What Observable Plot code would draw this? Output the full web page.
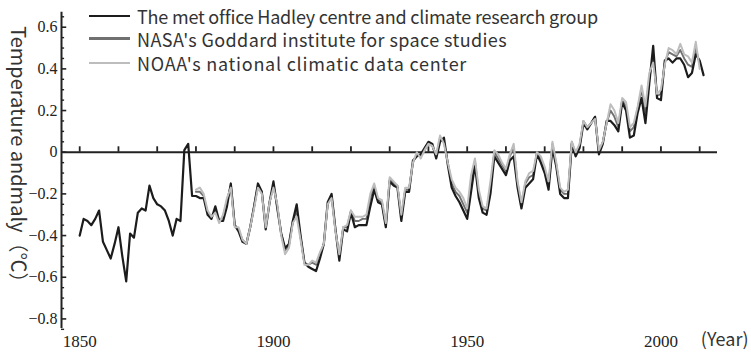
<!DOCTYPE html>
<html>
<head>
<meta charset="utf-8">
<script src="https://cdn.jsdelivr.net/npm/d3@7"></script>
<script src="https://cdn.jsdelivr.net/npm/@observablehq/plot@0.6"></script>
<style>
  html, body { margin: 0; padding: 0; background: #fff; }
  #wrap { position: relative; width: 751px; height: 355px; }
  #legend { position: absolute; left: 89px; top: 4px; font-family: "Noto Sans CJK SC", "Noto Sans", sans-serif; font-size: 18px; color: #333; }
  .row { position: absolute; left: 0; white-space: nowrap; display: flex; align-items: center; height: 20px; line-height: 20px; }
  .sw { display: inline-block; width: 41px; margin-right: 7px; }
</style>
</head>
<body>
<div id="wrap"><div id="legend"></div></div>
<script>
const seriesNames = [
  "The met office Hadley centre and climate research group",
  "NASA's Goddard institute for space studies",
  "NOAA's national climatic data center"
];
const seriesColors = ["#1c1c1c", "#707070", "#bdbdbd"];

const hadleyStart = 1850;
const hadley = [
  -0.40,-0.32,-0.33,-0.35,-0.32,-0.28,-0.43,-0.47,-0.51,-0.44,
  -0.36,-0.50,-0.62,-0.39,-0.41,-0.29,-0.27,-0.28,-0.16,-0.22,
  -0.25,-0.26,-0.28,-0.33,-0.40,-0.32,-0.33,0.01,0.04,-0.21,
  -0.21,-0.22,-0.22,-0.30,-0.32,-0.26,-0.33,-0.33,-0.26,-0.15,
  -0.35,-0.38,-0.43,-0.44,-0.36,-0.26,-0.15,-0.19,-0.37,-0.24,
  -0.14,-0.27,-0.39,-0.46,-0.44,-0.33,-0.25,-0.40,-0.53,-0.55,
  -0.56,-0.57,-0.51,-0.44,-0.24,-0.20,-0.37,-0.52,-0.37,-0.38,
  -0.29,-0.36,-0.35,-0.35,-0.35,-0.26,-0.18,-0.24,-0.25,-0.36,
  -0.14,-0.16,-0.17,-0.33,-0.19,-0.19,-0.04,-0.02,-0.01,0.02,
  0.05,0.04,-0.03,0.05,0.07,-0.06,-0.17,-0.21,-0.24,-0.28,
  -0.32,-0.19,-0.06,-0.22,-0.29,-0.30,-0.20,-0.02,-0.05,-0.08,
  -0.11,-0.04,-0.02,-0.17,-0.27,-0.17,-0.15,-0.13,-0.01,-0.05,
  -0.10,-0.18,0.02,-0.07,-0.20,-0.22,-0.22,0.04,-0.02,0.02,
  0.14,0.11,0.14,0.17,-0.01,0.04,0.15,0.15,0.13,0.10,
  0.24,0.20,0.07,0.08,0.19,0.26,0.14,0.33,0.51,0.26,
  0.25,0.44,0.45,0.43,0.45,0.45,0.42,0.36,0.38,0.47,
  0.44,0.37
];

const nasaStart = 1880;
const nasa = [
  -0.19,-0.19,-0.21,-0.29,-0.31,-0.28,-0.33,-0.31,-0.23,-0.16,
  -0.35,-0.37,-0.42,-0.44,-0.36,-0.26,-0.16,-0.19,-0.36,-0.24,
  -0.16,-0.26,-0.39,-0.47,-0.45,-0.33,-0.28,-0.41,-0.53,-0.54,
  -0.53,-0.54,-0.49,-0.44,-0.25,-0.21,-0.37,-0.50,-0.36,-0.36,
  -0.28,-0.33,-0.33,-0.32,-0.32,-0.22,-0.16,-0.23,-0.24,-0.35,
  -0.13,-0.15,-0.16,-0.31,-0.18,-0.18,-0.05,-0.01,-0.02,0.01,
  0.04,0.03,-0.02,0.07,0.05,-0.05,-0.15,-0.19,-0.21,-0.25,
  -0.29,-0.15,-0.04,-0.20,-0.27,-0.28,-0.17,0.00,-0.03,-0.06,
  -0.09,-0.02,0.02,-0.15,-0.25,-0.15,-0.12,-0.11,0.00,-0.03,
  -0.08,-0.16,0.04,-0.06,-0.18,-0.20,-0.20,0.05,-0.01,0.03,
  0.15,0.12,0.14,0.17,0.00,0.05,0.14,0.20,0.17,0.12,
  0.25,0.22,0.10,0.12,0.21,0.30,0.19,0.36,0.46,0.27,
  0.28,0.43,0.48,0.47,0.46,0.49,0.45,0.42,0.41,0.50,
  0.42
];

const noaaStart = 1880;
const noaa = [
  -0.18,-0.17,-0.20,-0.28,-0.31,-0.29,-0.34,-0.30,-0.22,-0.17,
  -0.36,-0.36,-0.42,-0.44,-0.36,-0.27,-0.17,-0.20,-0.36,-0.24,
  -0.17,-0.25,-0.40,-0.49,-0.46,-0.34,-0.31,-0.42,-0.54,-0.54,
  -0.52,-0.53,-0.48,-0.44,-0.25,-0.22,-0.38,-0.49,-0.36,-0.35,
  -0.28,-0.31,-0.31,-0.31,-0.30,-0.20,-0.15,-0.22,-0.23,-0.34,
  -0.12,-0.14,-0.16,-0.30,-0.17,-0.17,-0.05,0.00,-0.03,0.01,
  0.04,0.03,-0.01,0.08,0.04,-0.05,-0.13,-0.17,-0.19,-0.22,
  -0.27,-0.11,-0.03,-0.18,-0.26,-0.27,-0.14,0.01,-0.01,-0.05,
  -0.08,-0.01,0.04,-0.14,-0.24,-0.14,-0.10,-0.09,0.00,-0.02,
  -0.07,-0.14,0.05,-0.05,-0.17,-0.19,-0.18,0.05,0.00,0.04,
  0.15,0.12,0.14,0.16,0.01,0.05,0.14,0.23,0.20,0.14,
  0.26,0.24,0.12,0.14,0.22,0.32,0.22,0.38,0.43,0.28,
  0.30,0.42,0.50,0.49,0.47,0.52,0.47,0.46,0.43,0.53,
  0.40
];

const xTickYears = [1850,1860,1870,1880,1890,1900,1910,1920,1930,1940,1950,1960,1970,1980,1990,2000,2010];
const xLabelYears = [1850, 1900, 1950, 2000];
const yMajor = [-0.8,-0.6,-0.4,-0.2,0,0.2,0.4,0.6];
const yMinor = [-0.85,-0.75,-0.7,-0.65,-0.55,-0.5,-0.45,-0.35,-0.3,-0.25,-0.15,-0.1,-0.05,0.05,0.1,0.15,0.25,0.3,0.35,0.45,0.5,0.55,0.65];
const xDomain = [1845.3, 2014.6];
const yDomain = [-0.846, 0.672];

const toRows = (start, vals, name) => vals.map((v, i) => ({year: start + i, value: v, name}));
const rows = [
  toRows(hadleyStart, hadley, seriesNames[0]),
  toRows(nasaStart, nasa, seriesNames[1]),
  toRows(noaaStart, noaa, seriesNames[2])
];

const fmt = d => d === 0 ? "0" : d3.format(".1f")(d).replace("-", "\u2212");

const chart = Plot.plot({
  width: 751,
  height: 355,
  marginLeft: 61,
  marginRight: 34,
  marginTop: 11.7,
  marginBottom: 27,
  x: {domain: xDomain, label: null},
  y: {domain: yDomain, label: null},
  style: {background: "transparent"},
  marks: [
    Plot.ruleY([0], {x1: xDomain[0], x2: xDomain[1], stroke: "#222", strokeWidth: 2}),
    Plot.ruleX(xTickYears, {y1: 0, y2: 0.026, stroke: "#222", strokeWidth: 1.8}),
    Plot.ruleX([xDomain[0]], {y1: yDomain[0], y2: yDomain[1], stroke: "#222", strokeWidth: 2}),
    Plot.ruleY(yMajor, {x1: xDomain[0], x2: xDomain[0] + 1.35, stroke: "#222", strokeWidth: 1.6}),
    Plot.ruleY(yMinor, {x1: xDomain[0], x2: xDomain[0] + 0.8, stroke: "#222", strokeWidth: 1.4}),
    Plot.axisY(yMajor, {tickSize: 0, tickPadding: 4, tickFormat: fmt, fontSize: 16, fontFamily: "Liberation Serif, serif", fill: "#222", label: null}),
    Plot.axisX(xLabelYears, {tickSize: 0, tickPadding: 6, tickFormat: d => String(d), fontSize: 17, fontFamily: "Liberation Serif, serif", fill: "#222", label: null}),
    Plot.line(rows[1], {x: "year", y: "value", stroke: seriesColors[1], strokeWidth: 1.9}),
    Plot.line(rows[0], {x: "year", y: "value", stroke: seriesColors[0], strokeWidth: 2.2}),
    Plot.line(rows[2], {x: "year", y: "value", stroke: seriesColors[2], strokeWidth: 2}),
    Plot.text(["Temperature andmaly\uFF08\u2103\uFF09"], {frameAnchor: "left", textAnchor: "middle", lineAnchor: "middle", rotate: 90, dx: -44, dy: -11, fontSize: 20, fontFamily: "Noto Sans CJK SC, sans-serif", fill: "#333"}),
    Plot.text(["(Year)"], {frameAnchor: "bottom-right", textAnchor: "end", lineAnchor: "middle", dx: 31, dy: 12, fontSize: 18, fontFamily: "Noto Sans CJK SC, sans-serif", fill: "#333"})
  ]
});
document.getElementById("wrap").prepend(chart);

const legend = document.getElementById("legend");
const rowTops = [2, 24.5, 49];
const rowSpacing = [-0.2, 0.4, 0.75];
const swH = [2.5, 2.2, 2];
seriesNames.forEach((n, i) => {
  const r = document.createElement("div");
  r.className = "row";
  r.style.top = rowTops[i] + "px";
  const s = document.createElement("span");
  s.className = "sw";
  s.style.height = swH[i] + "px";
  s.style.background = seriesColors[i];
  const t = document.createElement("span");
  t.textContent = n;
  t.style.letterSpacing = rowSpacing[i] + "px";
  r.appendChild(s); r.appendChild(t);
  legend.appendChild(r);
});
</script>
</body>
</html>
